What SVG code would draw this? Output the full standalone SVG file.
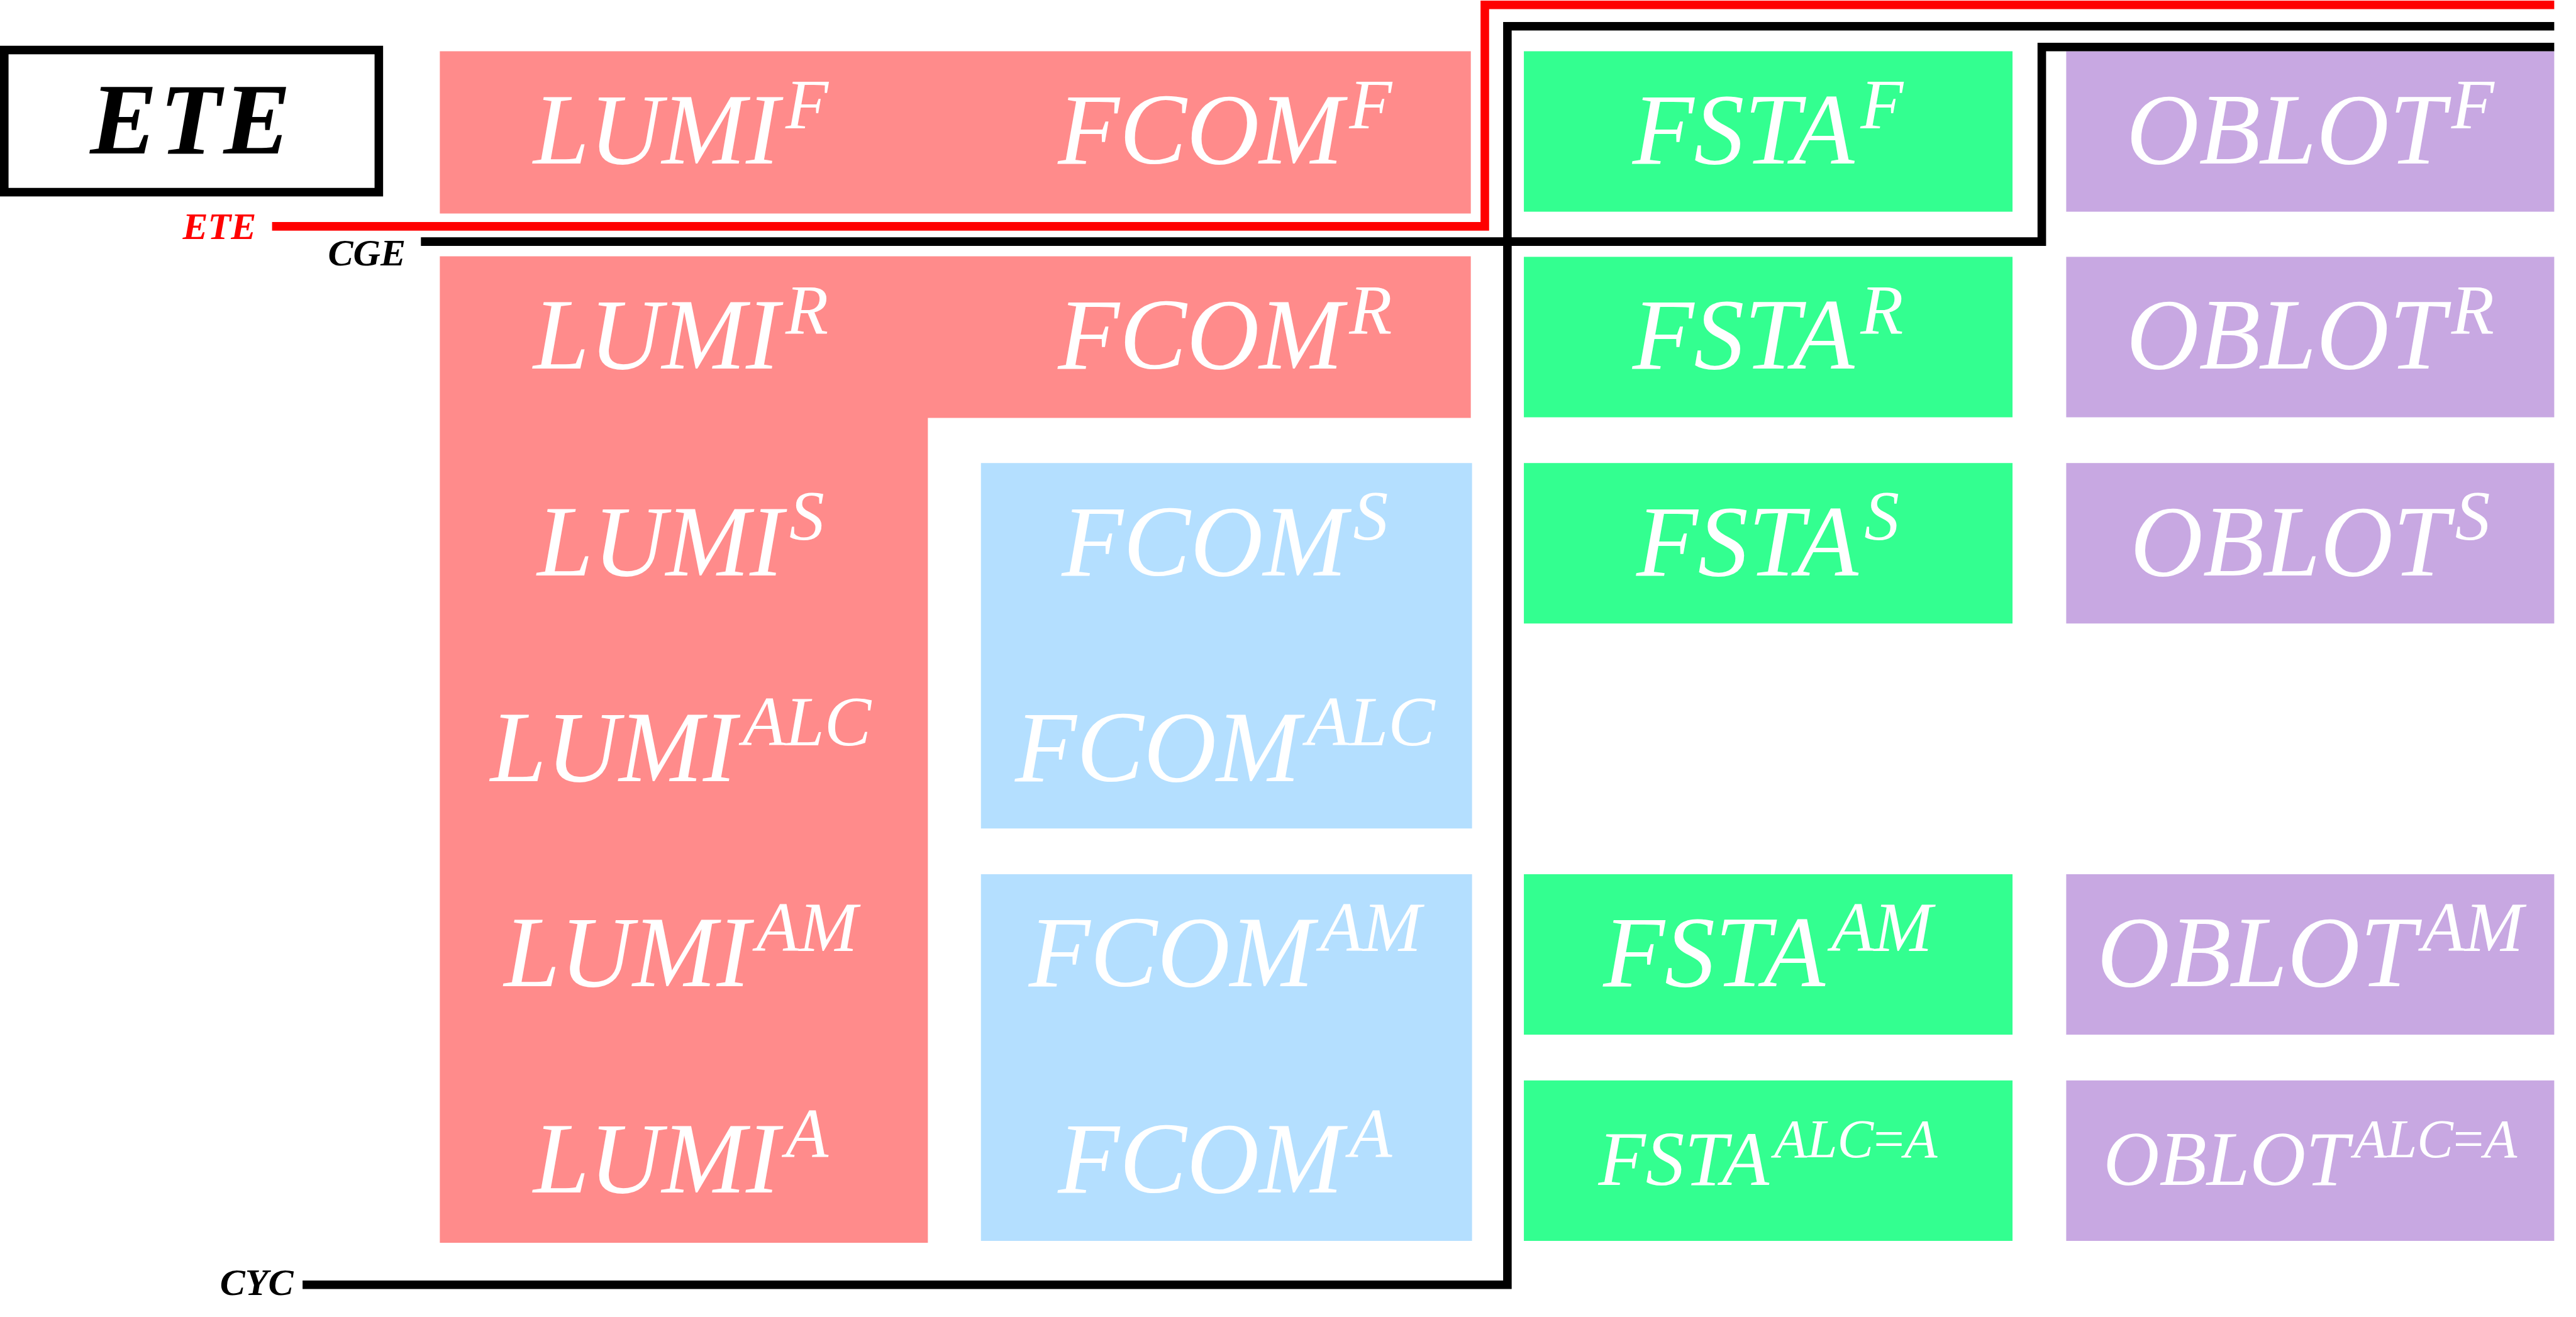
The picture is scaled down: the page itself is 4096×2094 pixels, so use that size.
<svg xmlns="http://www.w3.org/2000/svg" width="4096" height="2094" viewBox="0 0 4096 2094">
<style>
.pink{fill:#FF8B8B}
.green{fill:#33FF90}
.blue{fill:#B4DFFF}
.purple{fill:#C8A8E2}
.lbl{font-family:"Liberation Serif","DejaVu Serif",serif;font-style:italic;fill:#FFFFFF;text-anchor:middle}
.big{font-size:165px}
.sm{font-size:127px}
.tag{font-family:"Liberation Serif","DejaVu Serif",serif;font-style:italic;font-weight:bold;font-size:62px;text-anchor:end}
.wire{fill:none;stroke-width:14;stroke-linejoin:miter}
</style>
<rect width="4096" height="2094" fill="#FFFFFF"/>
<g transform="scale(0.97)">
<g id="ete">
<rect x="7" y="82" width="614" height="233" fill="none" stroke="#000" stroke-width="14"/>
<text x="314" y="252" font-family="Liberation Serif, DejaVu Serif, serif" font-style="italic" font-weight="bold" font-size="165" text-anchor="middle" fill="#000" letter-spacing="4">ETE</text>
</g>
<g id="lumi-fcom-f">
<rect class="pink" x="721" y="84" width="1690" height="266"/>
<text class="lbl big" x="1116" y="268">LUMI<tspan font-size="115" dx="10" dy="-58">F</tspan></text>
<text class="lbl big" x="2008" y="268">FCOM<tspan font-size="115" dx="10" dy="-58">F</tspan></text>
</g>
<g id="lumi-block">
<path class="pink" d="M721 420H2411V685H1521V2037H721Z"/>
<text class="lbl big" x="1116" y="604">LUMI<tspan font-size="115" dx="10" dy="-58">R</tspan></text>
<text class="lbl big" x="2008" y="604">FCOM<tspan font-size="115" dx="10" dy="-58">R</tspan></text>
<text class="lbl big" x="1116" y="943">LUMI<tspan font-size="115" dx="10" dy="-58">S</tspan></text>
<text class="lbl big" x="1116" y="1280">LUMI<tspan font-size="115" dx="10" dy="-58">ALC</tspan></text>
<text class="lbl big" x="1116" y="1617">LUMI<tspan font-size="115" dx="10" dy="-58">AM</tspan></text>
<text class="lbl big" x="1116" y="1955">LUMI<tspan font-size="115" dx="10" dy="-58">A</tspan></text>
</g>
<g id="fcom-s-alc">
<rect class="blue" x="1608" y="759" width="805" height="599"/>
<text class="lbl big" x="2008" y="943">FCOM<tspan font-size="115" dx="10" dy="-58">S</tspan></text>
<text class="lbl big" x="2008" y="1280">FCOM<tspan font-size="115" dx="10" dy="-58">ALC</tspan></text>
</g>
<g id="fcom-am-a">
<rect class="blue" x="1608" y="1433" width="805" height="601"/>
<text class="lbl big" x="2008" y="1617">FCOM<tspan font-size="115" dx="10" dy="-58">AM</tspan></text>
<text class="lbl big" x="2008" y="1955">FCOM<tspan font-size="115" dx="10" dy="-58">A</tspan></text>
</g>
<g id="fsta-f"><rect class="green" x="2498" y="84" width="801" height="263"/><text class="lbl big" x="2898" y="268">FSTA<tspan font-size="115" dx="10" dy="-58">F</tspan></text></g>
<g id="fsta-r"><rect class="green" x="2498" y="421" width="801" height="263"/><text class="lbl big" x="2898" y="604">FSTA<tspan font-size="115" dx="10" dy="-58">R</tspan></text></g>
<g id="fsta-s"><rect class="green" x="2498" y="759" width="801" height="263"/><text class="lbl big" x="2898" y="943">FSTA<tspan font-size="115" dx="10" dy="-58">S</tspan></text></g>
<g id="fsta-am"><rect class="green" x="2498" y="1433" width="801" height="263"/><text class="lbl big" x="2898" y="1617">FSTA<tspan font-size="115" dx="10" dy="-58">AM</tspan></text></g>
<g id="fsta-alca"><rect class="green" x="2498" y="1771" width="801" height="263"/><text class="lbl sm" x="2898" y="1942">FSTA<tspan font-size="89" dx="8" dy="-45">ALC<tspan font-style="normal">=</tspan>A</tspan></text></g>
<g id="oblot-f"><rect class="purple" x="3387" y="84" width="800" height="263"/><text class="lbl big" x="3787" y="268">OBLOT<tspan font-size="115" dx="10" dy="-58">F</tspan></text></g>
<g id="oblot-r"><rect class="purple" x="3387" y="421" width="800" height="263"/><text class="lbl big" x="3787" y="604">OBLOT<tspan font-size="115" dx="10" dy="-58">R</tspan></text></g>
<g id="oblot-s"><rect class="purple" x="3387" y="759" width="800" height="263"/><text class="lbl big" x="3787" y="943">OBLOT<tspan font-size="115" dx="10" dy="-58">S</tspan></text></g>
<g id="oblot-am"><rect class="purple" x="3387" y="1433" width="800" height="263"/><text class="lbl big" x="3787" y="1617">OBLOT<tspan font-size="115" dx="10" dy="-58">AM</tspan></text></g>
<g id="oblot-alca"><rect class="purple" x="3387" y="1771" width="800" height="263"/><text class="lbl sm" x="3787" y="1942">OBLOT<tspan font-size="89" dx="8" dy="-45">ALC<tspan font-style="normal">=</tspan>A</tspan></text></g>
<g id="connectors">
<path class="wire" stroke="#FF0000" d="M446 371H2434V8H4187"/>
<path class="wire" stroke="#000000" d="M690 396H3347V77H4187"/>
<path class="wire" stroke="#000000" d="M496 2106H2471V43H4187"/>
<text class="tag" x="420" y="392" fill="#FF0000">ETE</text>
<text class="tag" x="665" y="435" fill="#000000">CGE</text>
<text class="tag" x="481" y="2123" fill="#000000">CYC</text>
</g>
</g>
</svg>
